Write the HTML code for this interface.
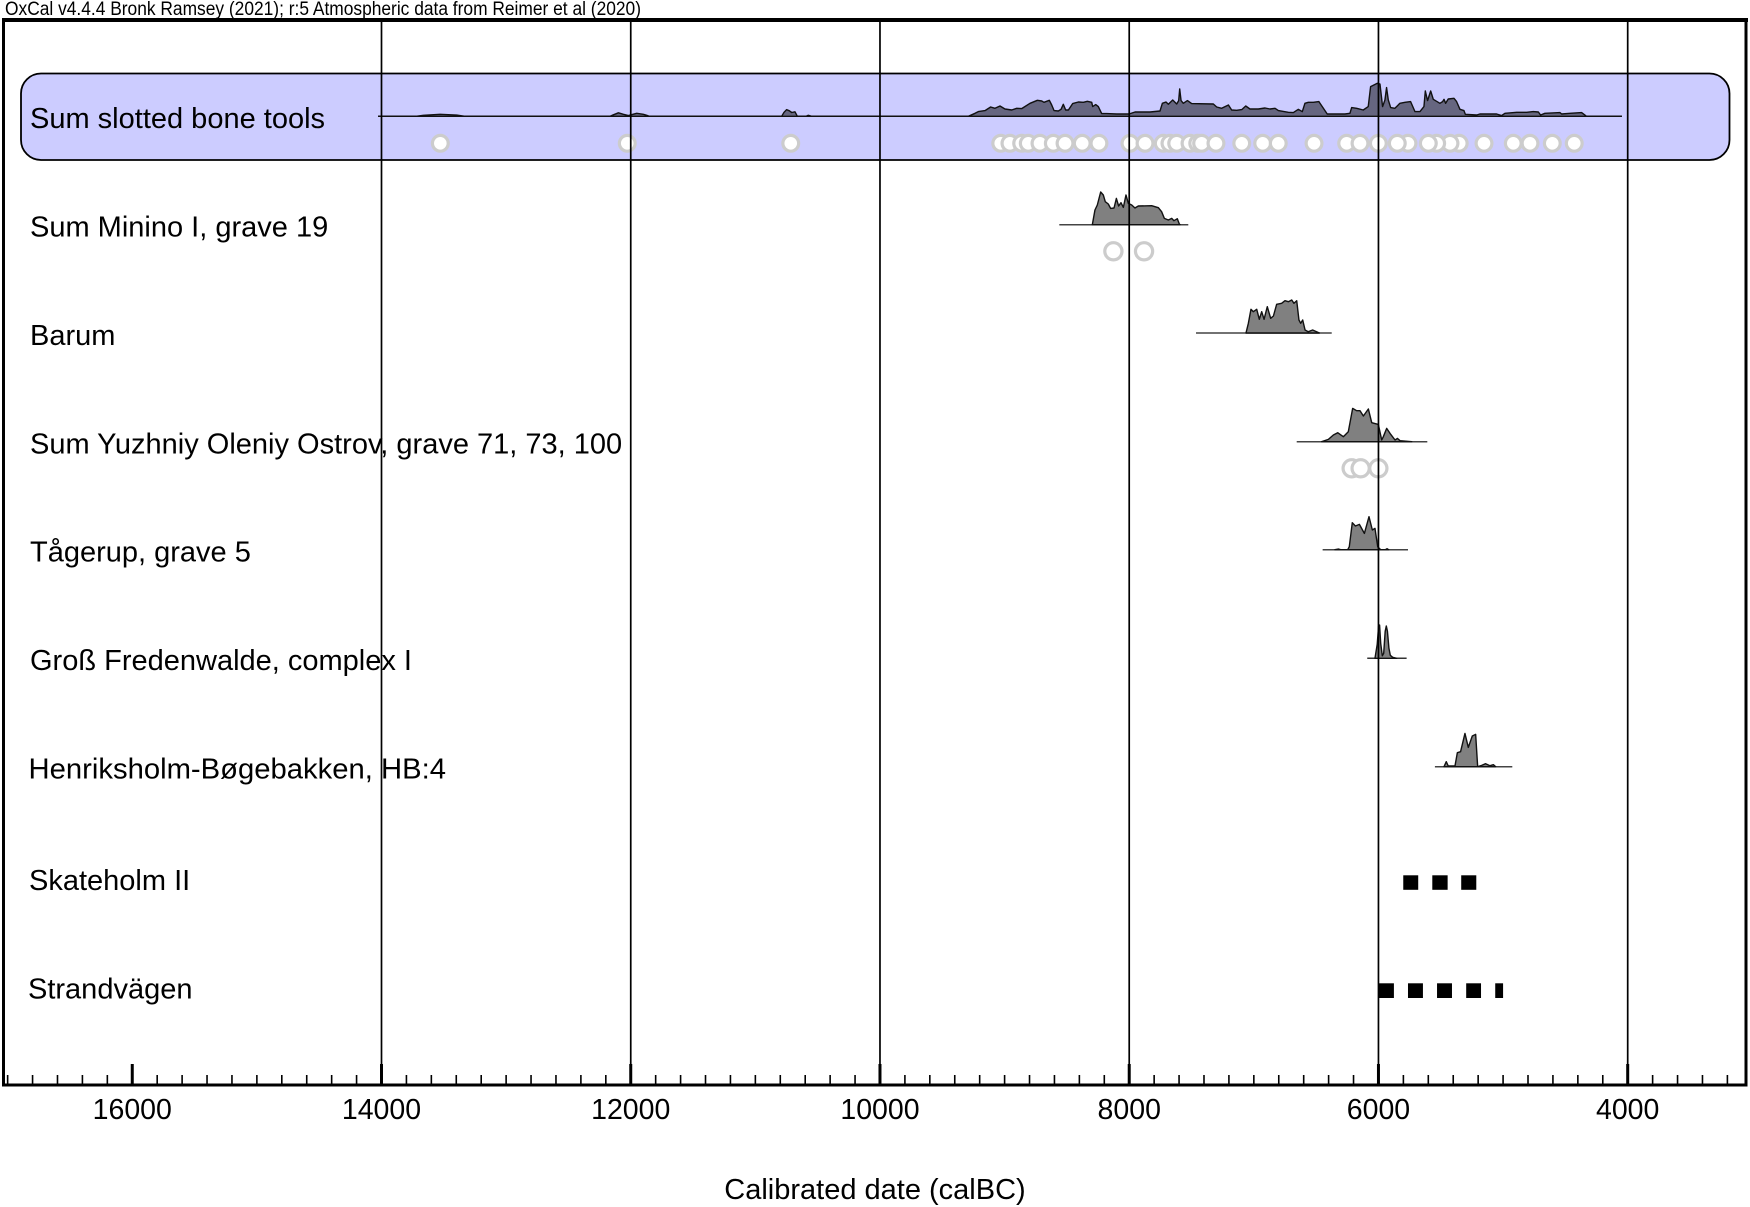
<!DOCTYPE html>
<html lang="en">
<head>
<meta charset="utf-8">
<title>OxCal calibrated date chart</title>
<style>
html,body{margin:0;padding:0;background:#fff;width:1750px;height:1207px;overflow:hidden}
svg{display:block;font-family:"Liberation Sans",Arial,sans-serif}
</style>
</head>
<body>
<svg id="chart" xmlns="http://www.w3.org/2000/svg" width="1750" height="1207" viewBox="0 0 1750 1207">
  <rect x="0" y="0" width="1750" height="1207" fill="#ffffff"/>
  <text x="5" y="15" font-size="19" textLength="636" lengthAdjust="spacingAndGlyphs" fill="#000">OxCal v4.4.4 Bronk Ramsey (2021); r:5 Atmospheric data from Reimer et al (2020)</text>
  <rect x="3.5" y="20" width="1742.5" height="1065" fill="none" stroke="#000" stroke-width="3"/>
  <rect x="2" y="18" width="1746" height="4" fill="#000"/>
  <rect x="21" y="73.5" width="1708.5" height="86.5" rx="20" ry="20" fill="#ccccff" stroke="#000" stroke-width="1.8"/>
  <g id="marks"></g>
  <g font-size="29" fill="#000">
    <text x="30" y="128">Sum slotted bone tools</text>
    <text x="30" y="236.7">Sum Minino I, grave 19</text>
    <text x="30" y="345">Barum</text>
    <text x="30" y="453.4">Sum Yuzhniy Oleniy Ostrov, grave 71, 73, 100</text>
    <text x="30" y="561.7">Tågerup, grave 5</text>
    <text x="30" y="670">Groß Fredenwalde, complex I</text>
    <text x="28.5" y="778.4" textLength="417.5" lengthAdjust="spacingAndGlyphs">Henriksholm-Bøgebakken, HB:4</text>
    <text x="29" y="890">Skateholm II</text>
    <text x="28" y="998.4">Strandvägen</text>
  </g>
  <g id="axis"></g>
  <text x="875" y="1199" font-size="29" text-anchor="middle" fill="#000">Calibrated date (calBC)</text>
</svg>
<script>
// Axis values
const majorTickYears = [16000, 14000, 12000, 10000, 8000, 6000, 4000];
const gridYears = [14000, 12000, 10000, 8000, 6000, 4000];
const tickLabels = ["16000", "14000", "12000", "10000", "8000", "6000", "4000"];

// Sum slotted bone tools
const sumRange = [14028, 4046];
const sumYears = [13723,13664,13530,13397,13330,12166,12139,12099,12059,12019,11952,11899,11872,11851,10789,10770,10749,10727,10708,10682,10663,10593,10575,10548,9291,9237,9211,9157,9112,9077,9037,8997,8943,8903,8863,8796,8737,8702,8684,8641,8622,8603,8569,8547,8529,8510,8488,8454,8408,8368,8336,8301,8293,8269,8248,8221,8181,8101,8002,7953,7833,7753,7734,7705,7686,7651,7619,7603,7595,7584,7566,7533,7499,7325,7298,7258,7231,7204,7178,7138,7097,7065,7031,6964,6910,6870,6830,6803,6723,6683,6643,6611,6590,6563,6523,6478,6411,6269,6229,6215,6175,6122,6082,6063,6009,5988,5967,5948,5935,5921,5902,5868,5828,5787,5742,5707,5667,5635,5624,5606,5581,5560,5507,5485,5474,5461,5440,5394,5373,5346,5314,5303,5212,5186,5105,5052,5012,4985,4891,4811,4758,4717,4699,4664,4543,4530,4463,4370,4338,4330];
const sumDensity = [0,1,2,1.2,0,0,1.5,3.5,2,0.7,3,2,1,0,0,4,6.7,5.5,3.8,4.5,0,0,1,0,0,3,4.7,5.7,9.3,8,10.3,7.3,6.3,8,7.7,13,16,15.3,14,16,11.3,5.7,5.3,7,12,6.3,6.3,12.7,14.3,14,15,14,9.7,11.7,9.7,2.7,2.7,2.3,2.3,4.3,4.3,5.3,13,14.3,12,16.3,12.3,15.7,27.3,15.7,13,15.7,12.7,12.3,9.3,8,9.7,11.3,6.3,6,6.7,10.3,7.3,7.3,8.3,7.3,8,5.7,4,3.7,7,4.7,13,14,14,14.7,2.3,2.3,3,8.7,8,6.3,9.7,29.7,33,32.3,9.7,16.3,28.7,16.3,8.7,8,13,14,14.7,4.7,4.7,9.7,25.3,15.7,25.3,17,13,14.7,17,13,17.3,18,14.7,7,5.7,2,1.3,2.3,2.3,2.3,0.7,3,4,4,4.7,4.3,1.3,3,3.7,2.3,3,3.7,0.7,0];
const sumDates = [13528,12028,10716,9031,8957,8863,8810,8716,8609,8515,8377,8243,7994,7873,7727,7673,7619,7512,7450,7419,7304,7097,6929,6804,6517,6255,6148,6001,5763,5849,5352,5426,5533,5600,5153,4918,4784,4605,4429];

// Sum Minino I, grave 19
const mininoRange = [8561, 7526];
const mininoYears = [8296,8275,8256,8229,8208,8192,8168,8149,8122,8103,8085,8066,8047,8026,8007,7980,7954,7927,7820,7766,7740,7718,7686,7659,7641,7614,7598,7592];
const mininoDensity = [0,14.7,19.7,32.7,29.7,23,20.7,16.3,16.7,26.3,18.7,22,17.3,29.7,21.3,19.7,16.7,18.7,19,17,13,6.3,4.7,6.3,4,6,0.7,0];
const mininoDates = [8127,7881];

// Barum
const barumRange = [7464, 6375];
const barumYears = [7063,7044,7023,7004,6977,6956,6937,6918,6892,6865,6843,6817,6777,6750,6723,6696,6678,6656,6638,6624,6608,6589,6563,6528,6474];
const barumDensity = [0,9.7,23.7,21.3,23.7,13.7,21.3,13.7,26.3,14.7,17,28.7,29.7,32.3,31.3,33,29.7,32.3,13,9.7,13,3,1.3,3,0];

// Sum Yuzhniy Oleniy Ostrov
const yuzhniyRange = [6656, 5608];
const yuzhniyYears = [6456,6402,6362,6327,6282,6242,6207,6175,6148,6121,6081,6054,6001,5974,5961,5934,5907,5867,5848,5827,5733];
const yuzhniyDensity = [0,2.3,6.7,9,5,10,33.3,31,31,25.7,32.7,19,17.3,1.7,5,13.3,8.3,1.7,3.3,1,0];
const yuzhniyDates = [6215,6143,6001];

// Tagerup, grave 5
const tagerupRange = [6448, 5763];
const tagerupYears = [6349,6322,6303,6247,6234,6210,6185,6153,6113,6076,6049,6028,6006,5982,5945,5931,5918];
const tagerupDensity = [0,0.7,0,0,3,27,23.7,25.3,16.3,33,19.7,21.3,3,0,0,1,0];

// Gross Fredenwalde, complex I
const grossRange = [6090, 5774];
const grossYears = [6028,6010,5999,5991,5982,5969,5958,5946,5937,5928,5916,5905,5886,5854];
const grossDensity = [0,14,32,33.3,15,2.5,5,27,32.3,27,10,3,1,0];

// Henriksholm-Bogebakken, HB:4
const henriksholmRange = [5547, 4926];
const henriksholmYears = [5474,5456,5440,5386,5367,5341,5306,5279,5247,5220,5204,5172,5140,5105,5078,5060];
const henriksholmDensity = [0,5,0.7,0.7,14,15,33.3,19.3,30.7,32.3,0,1.3,3,1,2,0];

// Interval boxes
const skateholmStarts = [5801,5568,5336];
const skateholmEnds = [5681,5445,5215];
const strandvagenStarts = [5996,5763,5530,5296,5063];
const strandvagenEnds = [5876,5643,5410,5177,5000];

const NS = "http://www.w3.org/2000/svg";
const marks = document.getElementById("marks");
const axis = document.getElementById("axis");

function xScale(year) {
  return 381.5 + (14000 - year) * 0.12462;
}
function densityScale(baseline, value) {
  return baseline - value;
}
function make(tag, attrs, parent) {
  const el = document.createElementNS(NS, tag);
  for (const k in attrs) el.setAttribute(k, attrs[k]);
  parent.appendChild(el);
  return el;
}

function drawDensity(name, baseline, years, density, range, fill, lineColor) {
  const line = make("line", {x1: xScale(range[0]), x2: xScale(range[1]), y1: baseline, y2: baseline, stroke: lineColor, "stroke-width": 1.5}, marks);
  
  
  let d = "M" + xScale(years[0]).toFixed(2) + " " + baseline;
  for (let i = 0; i < years.length; i++) {
    d += " L" + xScale(years[i]).toFixed(2) + " " + densityScale(baseline, density[i]).toFixed(2);
  }
  d += " L" + xScale(years[years.length - 1]).toFixed(2) + " " + baseline + " Z";
  const area = make("path", {d: d, fill: fill, stroke: "#111", "stroke-width": 1.4, "stroke-linejoin": "round"}, marks);
  
  
}

function drawDates(name, cy, dates, radius) {
  dates.forEach(function (year) {
    const c = make("circle", {cx: xScale(year).toFixed(2), cy: cy, r: radius, fill: "#ffffff", stroke: "#cccccc", "stroke-width": 3.2}, marks);
    
    
  });
}

function drawBoxes(name, top, height, starts, ends) {
  starts.forEach(function (start, i) {
    const r = make("rect", {x: xScale(start).toFixed(2), y: top, width: (xScale(ends[i]) - xScale(start)).toFixed(2), height: height, fill: "#000"}, marks);
    
    
  });
}

drawDensity("sum-slotted-bone-tools", 116.3, sumYears, sumDensity, sumRange, "#666680", "#111");
drawDates("sum-slotted-bone-tools", 143.3, sumDates, 7.9);
drawDensity("sum-minino", 224.7, mininoYears, mininoDensity, mininoRange, "#808080", "#444");
drawDates("sum-minino", 251.3, mininoDates, 8.6);
drawDensity("barum", 333, barumYears, barumDensity, barumRange, "#808080", "#444");
drawDensity("sum-yuzhniy", 441.7, yuzhniyYears, yuzhniyDensity, yuzhniyRange, "#808080", "#444");
drawDates("sum-yuzhniy", 468.3, yuzhniyDates, 8.6);
drawDensity("tagerup", 549.7, tagerupYears, tagerupDensity, tagerupRange, "#808080", "#444");
drawDensity("gross-fredenwalde", 658.3, grossYears, grossDensity, grossRange, "#808080", "#333");
drawDensity("henriksholm", 766.7, henriksholmYears, henriksholmDensity, henriksholmRange, "#808080", "#444");
drawBoxes("skateholm", 875.3, 14.5, skateholmStarts, skateholmEnds);
drawBoxes("strandvagen", 983.3, 14.7, strandvagenStarts, strandvagenEnds);

// Axis drawing
gridYears.forEach(function (year) {
  const g = make("line", {x1: xScale(year), x2: xScale(year), y1: 22, y2: 1064, stroke: "#000", "stroke-width": 1.7}, axis);
  
  
});
for (let year = 17000; year >= 3200; year -= 200) {
  if (majorTickYears.indexOf(year) !== -1) continue;
  const t = make("line", {x1: xScale(year), x2: xScale(year), y1: 1075, y2: 1085, stroke: "#000", "stroke-width": 1.6}, axis);
  
  
}
majorTickYears.forEach(function (year, i) {
  const t = make("line", {x1: xScale(year), x2: xScale(year), y1: 1064, y2: 1085, stroke: "#000", "stroke-width": 3}, axis);
  
  
  const lab = make("text", {x: xScale(year), y: 1119, "font-size": 28.5, "text-anchor": "middle", fill: "#000"}, axis);
  lab.textContent = tickLabels[i];
  
  
});
</script>
</body>
</html>
